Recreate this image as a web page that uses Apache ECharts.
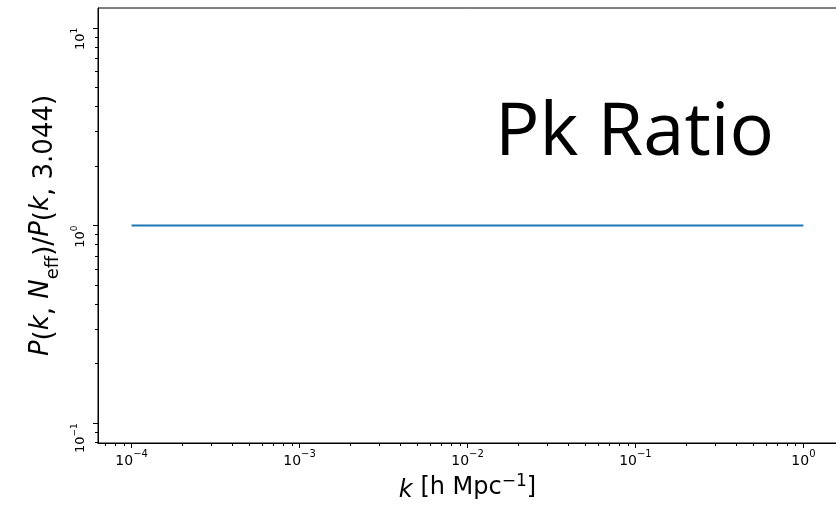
<!DOCTYPE html>
<html>
<head>
<meta charset="utf-8">
<title>Pk Ratio</title>
<script src="https://cdn.jsdelivr.net/npm/echarts@6/dist/echarts.min.js"></script>
<style>
  html, body { margin: 0; padding: 0; background: #ffffff; }
  #chart { width: 836px; height: 510px; }
</style>
</head>
<body>
<div id="chart"></div>
<script>
// Wavenumber samples and the power-spectrum ratio at each of them
const kValues = [1e-4, 1e-3, 1e-2, 1e-1, 1];
const pkRatio = [1, 1, 1, 1, 1];

// Decade ticks (labelled) and the 2..9 minor ticks of a log axis
const xMajorTicks = [1e-4, 1e-3, 1e-2, 1e-1, 1];
const xMinorTicks = [
  7e-5, 8e-5, 9e-5,
  2e-4, 3e-4, 4e-4, 5e-4, 6e-4, 7e-4, 8e-4, 9e-4,
  2e-3, 3e-3, 4e-3, 5e-3, 6e-3, 7e-3, 8e-3, 9e-3,
  2e-2, 3e-2, 4e-2, 5e-2, 6e-2, 7e-2, 8e-2, 9e-2,
  0.2, 0.3, 0.4, 0.5, 0.6, 0.7, 0.8, 0.9
];
const yMajorTicks = [0.1, 1, 10];
const yMinorTicks = [0.08, 0.09, 0.2, 0.3, 0.4, 0.5, 0.6, 0.7, 0.8, 0.9, 2, 3, 4, 5, 6, 7, 8, 9];

const chartTitle = 'Pk Ratio';

const FONT = '"DejaVu Sans", sans-serif';

function powLabel(v) {
  const e = Math.round(Math.log10(v));
  const s = e < 0 ? '\u2212' + (-e) : String(e);
  return '{b|10}{s|' + s + '}';
}

const seriesData = kValues.map((k, i) => [k, pkRatio[i]]);

const xMin = Math.pow(10, -4.2), xMax = Math.pow(10, 0.2);
const yMin = Math.pow(10, -1.1), yMax = Math.pow(10, 1.1);

const chart = echarts.init(document.getElementById('chart'), null, { renderer: 'canvas' });

const xLabelRich = {
  b: { fontFamily: FONT, fontSize: 14, color: '#000', lineHeight: 19, verticalAlign: 'bottom' },
  s: { fontFamily: FONT, fontSize: 10, color: '#000', lineHeight: 11, verticalAlign: 'top' }
};
const yLabelRich = {
  b: { fontFamily: FONT, fontSize: 13, color: '#000', lineHeight: 17, verticalAlign: 'bottom' },
  s: { fontFamily: FONT, fontSize: 9, color: '#000', lineHeight: 10, verticalAlign: 'top' }
};

const option = {
  animation: false,
  backgroundColor: '#ffffff',
  grid: {
    left: 98, top: 8, width: 739, height: 435,
    show: true, borderColor: '#000', borderWidth: 1, backgroundColor: 'transparent',
    containLabel: false, outerBoundsMode: 'none'
  },
  xAxis: [
    {
      type: 'log', logBase: 10, min: xMin, max: xMax, position: 'bottom',
      axisLine: { show: true, lineStyle: { color: '#000', width: 1 } },
      axisTick: { show: true, length: 5, lineStyle: { color: '#000', width: 1 }, customValues: xMajorTicks },
      axisLabel: { show: true, margin: 6, formatter: powLabel, rich: xLabelRich, customValues: xMajorTicks },
      splitLine: { show: false },
      name: '{i|k} [h Mpc{s|\u22121}]',
      nameLocation: 'middle', nameGap: 35,
      nameTextStyle: {
        rich: {
          i: { fontFamily: FONT, fontStyle: 'italic', fontSize: 24, color: '#000', lineHeight: 30, verticalAlign: 'bottom' },
          s: { fontFamily: FONT, fontSize: 17, color: '#000', lineHeight: 20, verticalAlign: 'top' }
        },
        fontFamily: FONT, fontSize: 24, color: '#000', lineHeight: 30, verticalAlign: 'bottom'
      }
    },
    {
      type: 'log', logBase: 10, min: xMin, max: xMax, position: 'bottom', gridIndex: 0,
      axisLine: { show: false },
      axisTick: { show: true, length: 3, lineStyle: { color: '#000', width: 1 }, customValues: xMinorTicks },
      axisLabel: { show: false },
      splitLine: { show: false }
    }
  ],
  yAxis: [
    {
      type: 'log', logBase: 10, min: yMin, max: yMax, position: 'left',
      axisLine: { show: true, lineStyle: { color: '#000', width: 1 } },
      axisTick: { show: true, length: 5, lineStyle: { color: '#000', width: 1 }, customValues: yMajorTicks },
      axisLabel: {
        show: true, rotate: 90, margin: 11, align: 'right',
        formatter: powLabel, rich: yLabelRich, customValues: yMajorTicks
      },
      splitLine: { show: false },
      name: '{i|P}({i|k}, {i|N}{sub|eff})/{i|P}({i|k}, 3.044)',
      nameLocation: 'middle', nameGap: 34,
      nameTextStyle: {
        rich: {
          i: { fontFamily: FONT, fontStyle: 'italic', fontSize: 26, color: '#000', lineHeight: 34, verticalAlign: 'top' },
          sub: { fontFamily: FONT, fontSize: 18, color: '#000', lineHeight: 21, verticalAlign: 'bottom' }
        },
        fontFamily: FONT, fontSize: 26, color: '#000', lineHeight: 34, verticalAlign: 'top'
      }
    },
    {
      type: 'log', logBase: 10, min: yMin, max: yMax, position: 'left', gridIndex: 0,
      axisLine: { show: false },
      axisTick: { show: true, length: 3, lineStyle: { color: '#000', width: 1 }, customValues: yMinorTicks },
      axisLabel: { show: false },
      splitLine: { show: false }
    }
  ],
  series: [
    {
      type: 'line',
      xAxisIndex: 0, yAxisIndex: 0,
      data: seriesData,
      showSymbol: false, symbol: 'none',
      lineStyle: { color: '#1f77b4', width: 2 },
      itemStyle: { color: '#1f77b4' }
    }
  ],
  graphic: [
    {
      type: 'text',
      left: 495, top: 97,
      style: {
        text: chartTitle,
        fontFamily: '"Open Sans", sans-serif',
        fontSize: 74,
        fill: '#000'
      }
    }
  ]
};

chart.setOption(option);
</script>
</body>
</html>
